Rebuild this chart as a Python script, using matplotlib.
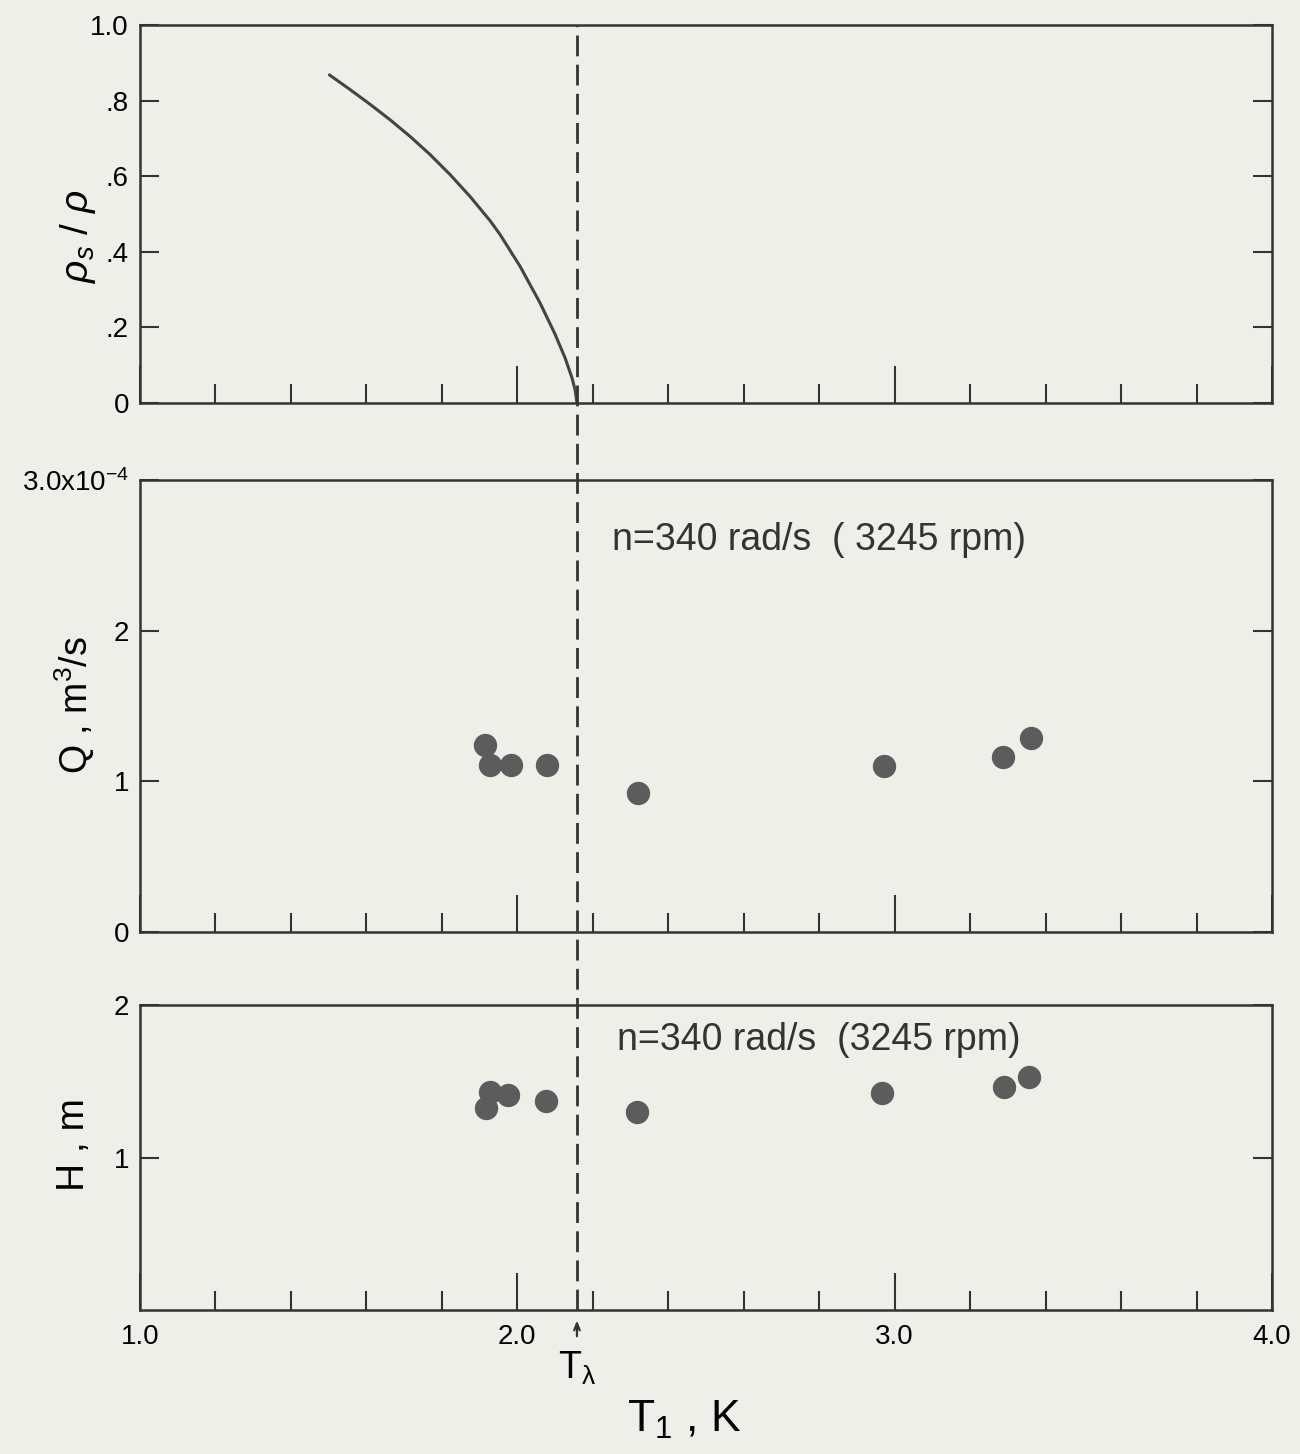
import numpy as np
import matplotlib
matplotlib.use('Agg')
import matplotlib.pyplot as plt
from matplotlib.ticker import MultipleLocator
from matplotlib.lines import Line2D
import matplotlib.transforms as mtransforms

plt.rcParams['font.family'] = ['Liberation Sans', 'DejaVu Sans']
plt.rcParams['mathtext.fontset'] = 'custom'
plt.rcParams['mathtext.rm'] = 'Liberation Sans'
plt.rcParams['mathtext.it'] = 'Liberation Sans:italic'
plt.rcParams['mathtext.default'] = 'regular'
plt.rcParams['lines.scale_dashes'] = False

# superfluid fraction curve
T_curve = [1.502, 1.557, 1.610, 1.663, 1.716, 1.769, 1.822, 1.875, 1.928, 1.954,
		   2.007, 2.060, 2.100, 2.127, 2.145, 2.153, 2.158]
rho_ratio = [0.868, 0.829, 0.790, 0.749, 0.705, 0.657, 0.604, 0.546, 0.482, 0.446,
			 0.362, 0.265, 0.182, 0.118, 0.066, 0.035, 0.0]

T_lambda = 2.158

# measured points
T_pts = [1.914, 1.928, 1.983, 2.079, 2.320, 2.972, 3.287, 3.361]
Q_pts = [1.24, 1.11, 1.11, 1.11, 0.92, 1.10, 1.16, 1.29]   # x1e-4 m^3/s
T_pts_H = [1.917, 1.928, 1.975, 2.076, 2.318, 2.966, 3.289, 3.357]
H_pts = [1.325, 1.43, 1.41, 1.37, 1.30, 1.42, 1.46, 1.53]

x_ticks = [1.0, 2.0, 3.0, 4.0]
x_labels = ['1.0', '2.0', '3.0', '4.0']

bg = '#efefea'
ink = '#333333'
dot = '#5c5c5c'
fs_tick = 20

fig = plt.figure(figsize=(13, 14.54), dpi=100, facecolor=bg)
left, width = 140 / 1300, 1132 / 1300
ax1 = fig.add_axes([left, 1 - 403 / 1454, width, 378 / 1454])
ax2 = fig.add_axes([left, 1 - 932 / 1454, width, 452 / 1454])
ax3 = fig.add_axes([left, 1 - 1310 / 1454, width, 305 / 1454])

# top panel
ax1.set_ylim(0, 1.0)
ax1.set_yticks([0, 0.2, 0.4, 0.6, 0.8, 1.0])
ax1.set_yticklabels(['0', '.2', '.4', '.6', '.8', '1.0'], fontsize=fs_tick)
ax1.plot(T_curve, rho_ratio, color='#444444', lw=2.2, solid_capstyle='round', solid_joinstyle='round')
ax1.text(-0.055, 0.44, r'$\mathit{\rho_{s}}\ /\ \mathit{\rho}$', transform=ax1.transAxes, rotation=90,
		 ha='center', va='center', fontsize=28)

# middle panel
ax2.set_ylim(0, 3.0)
ax2.set_yticks([0, 1, 2, 3])
ax2.set_yticklabels(['0', '1', '2', r'3.0x10$^{-4}$'], fontsize=fs_tick)
ax2.scatter(T_pts, Q_pts, s=250, color=dot, zorder=3)
ax2.text(2.251, 2.60, 'n=340 rad/s  ( 3245 rpm)', fontsize=27, color=ink, va='center')
ax2.text(-0.058, 0.502, r'Q , m$^3$/s', transform=ax2.transAxes, rotation=90,
		 ha='center', va='center', fontsize=27)

# bottom panel
ax3.set_ylim(0, 2.0)
ax3.set_yticks([1, 2])
ax3.set_yticklabels(['1', '2'], fontsize=fs_tick)
ax3.scatter(T_pts_H, H_pts, s=250, color=dot, zorder=3)
ax3.text(2.265, 1.77, 'n=340 rad/s  (3245 rpm)', fontsize=27, color=ink, va='center')
ax3.text(-0.058, 0.541, 'H , m', transform=ax3.transAxes, rotation=90,
		 ha='center', va='center', fontsize=28)

for ax in (ax1, ax2, ax3):
	ax.set_facecolor(bg)
	ax.set_xlim(1.0, 4.0)
	for s in ax.spines.values():
		s.set_linewidth(1.8)
		s.set_color(ink)
	ax.set_xticks(x_ticks)
	ax.xaxis.set_minor_locator(MultipleLocator(0.2))
	if ax is ax3:
		ax.set_xticklabels(x_labels, fontsize=fs_tick)
	else:
		ax.set_xticklabels([])
	ax.tick_params(axis='x', which='major', direction='in', length=27, width=1.5, color=ink, pad=10)
	ax.tick_params(axis='x', which='minor', direction='in', length=14, width=1.5, color=ink)
	ax.tick_params(axis='y', which='major', direction='in', length=14, width=1.5, color=ink,
				   right=True, pad=8)

# lambda line through all panels
trans = mtransforms.blended_transform_factory(ax3.transData, fig.transFigure)
fig.add_artist(Line2D([T_lambda, T_lambda], [1 - 1310 / 1454, 1 - 25 / 1454], transform=trans,
					  color=ink, lw=2.0, dashes=(15, 6)))
ax3.annotate('', xy=(T_lambda, -0.025), xycoords=('data', 'axes fraction'),
			 xytext=(T_lambda, -0.095), textcoords=('data', 'axes fraction'),
			 arrowprops=dict(arrowstyle='->,head_length=0.5,head_width=0.2', color=ink, lw=1.6))
ax3.text(T_lambda, -0.19, r'T$_\lambda$', transform=ax3.get_xaxis_transform(),
		 ha='center', va='center', fontsize=27)

fig.text(684 / 1300, 1 - 1420 / 1454, r'T$_1$ , K', ha='center', va='center', fontsize=32)

fig.savefig('out.png', dpi=100, facecolor=bg)
